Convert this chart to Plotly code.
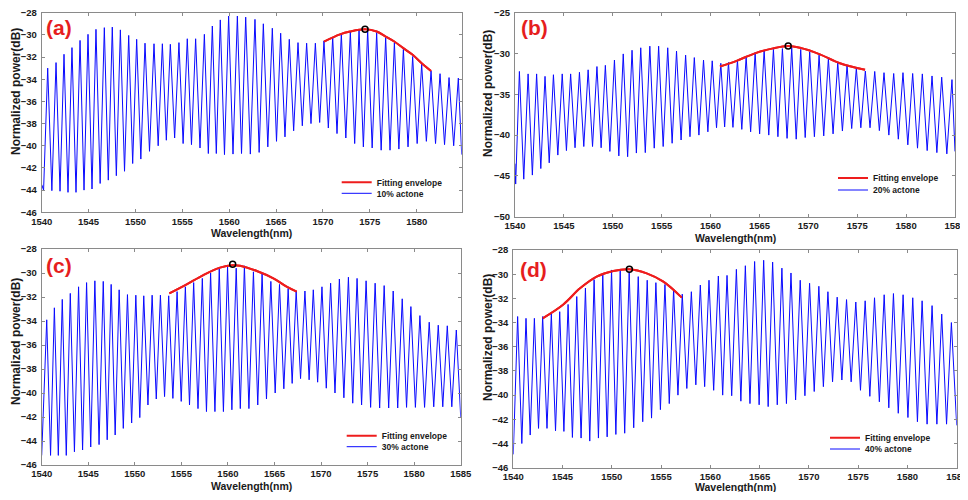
import plotly.graph_objects as go

# the page body adds an 8px margin; the figure is sized so that the page does not overflow the window
OFF = 8
W, H = 968 - OFF, 500 - 2 * OFF

# ---------------- data ----------------
# (a) 10% actone
a_label = "10% actone"
a_start_wl = [1540.0, 1540.2]
a_start_db = [-43.5, -44.0]
a_peak_wl = [1540.64, 1541.53, 1542.38, 1543.23, 1544.09, 1544.94, 1545.79, 1546.68, 1547.53, 1548.39,
             1549.28, 1550.13, 1551.02, 1551.98, 1552.87, 1553.72, 1554.64, 1555.53, 1556.42, 1557.35,
             1558.20, 1559.05, 1559.94, 1560.87, 1561.76, 1562.75, 1563.64, 1564.60, 1565.49, 1566.41,
             1567.34, 1568.26, 1569.19, 1570.11, 1571.04, 1571.96, 1572.92, 1573.85, 1574.77, 1575.73,
             1576.69, 1577.62, 1578.58, 1579.57, 1580.53, 1581.53, 1582.49, 1583.45, 1584.44]
a_peak_db = [-33.0, -32.5, -31.75, -31.15, -30.5, -29.95, -29.5, -29.35, -29.3, -29.55,
             -30.05, -30.4, -30.75, -30.8, -30.8, -30.85, -30.7, -30.35, -30.35, -29.95,
             -29.2, -28.65, -28.3, -28.3, -28.4, -28.6, -29.0, -29.4, -29.85, -30.4,
             -30.7, -30.75, -30.75, -30.55, -30.2, -29.9, -29.7, -29.55, -29.55, -29.8,
             -30.25, -30.7, -31.3, -31.95, -32.65, -33.25, -33.5, -33.85, -33.9]
a_trough_db = [-44.05, -44.1, -44.2, -44.2, -44.0, -43.9, -43.4, -43.1, -42.7, -42.3,
               -41.6, -41.2, -40.5, -40.0, -39.5, -39.3, -39.8, -39.9, -40.2, -40.7,
               -40.7, -40.8, -40.75, -40.7, -40.75, -40.6, -40.1, -39.6, -39.2, -38.65,
               -38.2, -38.0, -37.9, -38.4, -38.9, -39.3, -39.8, -40.1, -40.2, -40.4,
               -40.4, -40.3, -40.1, -39.8, -39.6, -39.8, -39.9, -40.0]
a_end_wl = [1584.8]
a_end_db = [-40.8]
a_env_wl = [1570.11, 1571.82, 1572.89, 1574.49, 1575.73, 1576.69, 1577.61, 1578.57, 1579.57, 1580.53, 1581.53]
a_env_db = [-30.6, -29.95, -29.7, -29.5, -29.7, -30.15, -30.6, -31.2, -31.8, -32.55, -33.25]
a_max_wl = [1574.49]
a_max_db = [-29.5]

# (b) 20% actone
b_label = "20% actone"
b_start_wl = [1540.0, 1540.07]
b_start_db = [-43.5, -46.0]
b_peak_wl = [1540.45, 1541.34, 1542.21, 1543.07, 1543.93, 1544.83, 1545.69, 1546.59, 1547.48, 1548.38,
             1549.24, 1550.17, 1551.07, 1551.97, 1552.86, 1553.79, 1554.69, 1555.62, 1556.52, 1557.45,
             1558.34, 1559.28, 1560.17, 1561.05, 1561.83, 1562.75, 1563.64, 1564.56, 1565.48, 1566.43,
             1567.35, 1568.30, 1569.22, 1570.14, 1571.10, 1572.05, 1573.01, 1573.96, 1574.91, 1575.83,
             1576.79, 1577.74, 1578.73, 1579.68, 1580.67, 1581.66, 1582.65, 1583.64, 1584.69]
b_peak_db = [-32.2, -32.5, -32.5, -32.8, -32.6, -32.5, -32.5, -32.3, -32.0, -31.6,
             -31.45, -30.8, -30.05, -29.6, -29.3, -29.1, -29.1, -29.3, -29.7, -30.2,
             -30.5, -30.8, -30.9, -31.2, -31.1, -30.8, -30.4, -29.9, -29.6, -29.5,
             -29.4, -29.3, -29.5, -29.8, -30.2, -30.6, -31.1, -31.45, -31.8, -32.15,
             -32.2, -32.35, -32.45, -32.35, -32.45, -32.5, -32.75, -32.9, -33.2]
b_trough_db = [-45.4, -44.9, -44.1, -43.4, -42.45, -41.9, -41.55, -41.4, -41.4, -41.55,
               -42.0, -42.55, -42.65, -42.2, -42.15, -41.6, -41.4, -41.0, -40.6, -40.2,
               -40.0, -39.6, -39.1, -39.0, -39.05, -39.3, -39.6, -39.85, -40.0, -40.2,
               -40.4, -40.5, -40.3, -40.2, -40.1, -39.85, -39.5, -39.2, -39.1, -39.1,
               -39.45, -40.0, -40.5, -41.2, -41.6, -41.9, -42.15, -42.3]
b_end_wl = [1585.0]
b_end_db = [-42.0]
b_env_wl = [1560.96, 1562.66, 1564.54, 1566.40, 1567.94, 1569.14, 1571.18, 1573.23, 1575.80]
b_env_db = [-31.6, -30.9, -29.98, -29.37, -29.08, -29.3, -30.1, -31.2, -32.0]
b_max_wl = [1567.94]
b_max_db = [-29.08]

# (c) 30% actone
c_label = "30% actone"
c_start_wl = [1540.0]
c_start_db = [-45.2]
c_peak_wl = [1540.54, 1541.36, 1542.21, 1543.07, 1543.96, 1544.82, 1545.71, 1546.61, 1547.46, 1548.32,
             1549.21, 1550.11, 1550.96, 1551.86, 1552.75, 1553.64, 1554.54, 1555.43, 1556.32, 1557.25,
             1558.14, 1559.07, 1559.96, 1560.89, 1561.77, 1562.74, 1563.67, 1564.61, 1565.54, 1566.47,
             1567.33, 1568.27, 1569.17, 1570.10, 1571.03, 1571.97, 1572.94, 1573.87, 1574.84, 1575.81,
             1576.78, 1577.75, 1578.72, 1579.65, 1580.62, 1581.62, 1582.59, 1583.56, 1584.53]
c_peak_db = [-33.9, -32.9, -32.2, -31.7, -31.15, -30.8, -30.65, -30.7, -30.95, -31.4,
             -31.8, -31.85, -31.9, -31.85, -31.85, -31.9, -31.55, -31.15, -30.8, -30.45,
             -30.0, -29.65, -29.5, -29.6, -29.4, -29.9, -30.05, -30.7, -30.95, -31.3,
             -31.5, -31.5, -31.4, -31.15, -30.85, -30.5, -30.35, -30.45, -30.65, -30.85,
             -31.05, -31.5, -32.15, -32.8, -33.55, -34.1, -34.35, -34.4, -34.75]
c_trough_db = [-45.2, -45.2, -45.2, -44.9, -44.75, -44.5, -44.3, -43.9, -43.5, -42.95,
               -42.5, -42.05, -41.0, -40.5, -40.3, -40.45, -40.7, -41.0, -41.3, -41.55,
               -41.55, -41.55, -41.4, -41.3, -41.3, -41.0, -40.5, -40.0, -39.65, -39.2,
               -38.8, -38.9, -39.1, -39.6, -40.0, -40.4, -40.85, -41.0, -41.2, -41.25,
               -41.25, -41.25, -41.2, -41.2, -41.2, -41.15, -41.15, -41.15]
c_end_wl = [1585.0]
c_end_db = [-42.0]
c_env_wl = [1553.71, 1555.57, 1557.36, 1559.15, 1560.51, 1561.3, 1563.1, 1564.88, 1566.3, 1567.39]
c_env_db = [-31.7, -30.95, -30.17, -29.55, -29.35, -29.39, -29.83, -30.44, -31.14, -31.55]
c_max_wl = [1560.51]
c_max_db = [-29.28]

# (d) 40% actone
d_label = "40% actone"
d_start_wl = [1540.0]
d_start_db = [-44.9]
d_peak_wl = [1540.44, 1541.29, 1542.14, 1542.98, 1543.86, 1544.71, 1545.56, 1546.44, 1547.32, 1548.20,
             1549.08, 1549.97, 1550.85, 1551.76, 1552.68, 1553.59, 1554.47, 1555.39, 1556.27, 1557.15,
             1558.07, 1558.98, 1559.86, 1560.81, 1561.69, 1562.64, 1563.55, 1564.49, 1565.41, 1566.32,
             1567.26, 1568.18, 1569.12, 1570.07, 1571.01, 1571.93, 1572.87, 1573.82, 1574.76, 1575.71,
             1576.66, 1577.64, 1578.58, 1579.56, 1580.54, 1581.49, 1582.50, 1583.48, 1584.46]
d_peak_db = [-33.5, -33.65, -33.65, -33.5, -33.25, -33.1, -32.5, -31.85, -31.15, -30.45,
             -30.0, -29.65, -29.6, -29.8, -30.2, -30.5, -30.7, -30.85, -31.25, -31.65,
             -31.45, -30.9, -30.5, -30.15, -30.1, -29.6, -29.3, -28.95, -28.85, -29.0,
             -29.5, -29.9, -30.5, -30.75, -31.0, -31.45, -31.9, -32.1, -32.3, -32.2,
             -31.95, -31.7, -31.6, -31.7, -31.95, -32.2, -32.6, -33.3, -34.0]
d_trough_db = [-44.0, -43.3, -42.75, -42.75, -42.95, -43.0, -43.5, -43.55, -43.8, -43.55,
               -43.45, -43.25, -43.15, -42.7, -42.2, -41.9, -41.2, -40.7, -40.0, -39.45,
               -39.15, -39.3, -39.6, -40.0, -40.05, -40.5, -40.7, -40.8, -40.95, -40.8,
               -40.7, -40.4, -40.05, -39.7, -39.3, -38.9, -38.75, -38.9, -39.6, -40.1,
               -40.55, -41.05, -41.5, -41.85, -42.2, -42.4, -42.4, -42.4]
d_end_wl = [1585.0]
d_end_db = [-42.5]
d_env_wl = [1542.98, 1545.08, 1546.77, 1548.46, 1550.15, 1551.78, 1553.54, 1555.23, 1557.10]
d_env_db = [-33.65, -32.5, -31.17, -30.2, -29.74, -29.6, -29.93, -30.62, -31.94]
d_max_wl = [1551.78]
d_max_db = [-29.6]

panel_tags = ["(a)", "(b)", "(c)", "(d)"]
x_ranges = [[1540, 1584.8], [1540, 1585], [1540, 1585], [1540, 1585]]
y_ranges = [[-46, -28], [-50, -25], [-46, -28], [-46, -28]]
y_dticks = [2, 5, 2, 2]
x_label = "Wavelength(nm)"
y_label = "Normalized power(dB)"
env_label = "Fitting envelope"

# ---------------- build ----------------
def spectrum(start_wl, start_db, peak_wl, peak_db, trough_db, end_wl, end_db):
    xs, ys = list(start_wl), list(start_db)
    for i in range(len(peak_wl)):
        xs.append(peak_wl[i]); ys.append(peak_db[i])
        if i < len(trough_db):
            xs.append((peak_wl[i] + peak_wl[i + 1]) / 2.0); ys.append(trough_db[i])
    xs += list(end_wl); ys += list(end_db)
    return xs, ys

panels = [
    (a_label, a_start_wl, a_start_db, a_peak_wl, a_peak_db, a_trough_db, a_end_wl, a_end_db, a_env_wl, a_env_db, a_max_wl, a_max_db),
    (b_label, b_start_wl, b_start_db, b_peak_wl, b_peak_db, b_trough_db, b_end_wl, b_end_db, b_env_wl, b_env_db, b_max_wl, b_max_db),
    (c_label, c_start_wl, c_start_db, c_peak_wl, c_peak_db, c_trough_db, c_end_wl, c_end_db, c_env_wl, c_env_db, c_max_wl, c_max_db),
    (d_label, d_start_wl, d_start_db, d_peak_wl, d_peak_db, d_trough_db, d_end_wl, d_end_db, d_env_wl, d_env_db, d_max_wl, d_max_db),
]

# layout positions in window pixels
boxes = [(41.7, 461.7, 12.7, 212.3), (515.0, 955.0, 12.7, 216.7),
         (41.7, 460.7, 249.0, 465.0), (513.3, 956.7, 250.0, 467.7)]
leg_pos = [((376.7, 182.3), (376.7, 193.3)), ((873.0, 178.0), (873.0, 190.0)),
           ((381.7, 435.7), (381.7, 446.7)), ((865.0, 437.7), (865.0, 449.0))]
tag_pos = [(58.5, 27.0), (534.0, 28.0), (58.5, 265.0), (533.0, 269.0)]
xlab_pos = [(251.7, 233.5), (735.0, 238.0), (251.2, 486.0), (735.0, 486.5)]
ylab_pos = [(16.0, 92.0), (488.0, 94.0), (16.0, 342.0), (488.0, 338.0)]

def fx(px):
    return (px - OFF) / W

def fy(py):
    return 1 - (py - OFF) / H

RED = "#ee1d1d"
BLUE = "rgb(10,10,255)"
FONT = "Liberation Sans"
AXC = "#8a8a8a"

fig = go.Figure()
layout = dict(width=W, height=H, margin=dict(l=0, r=0, t=0, b=0, pad=0), autosize=False,
              paper_bgcolor="white", plot_bgcolor="white", showlegend=True)
annotations = []

for k, p in enumerate(panels):
    (lab, s_wl, s_db, pk_wl, pk_db, tr_db, e_wl, e_db, env_wl, env_db, mx_wl, mx_db) = p
    sfx = "" if k == 0 else str(k + 1)
    xa, ya = "x" + sfx, "y" + sfx
    leg1 = "legend" if k == 0 else "legend" + str(2 * k + 1)
    leg2 = "legend" + str(2 * k + 2)
    xs, ys = spectrum(s_wl, s_db, pk_wl, pk_db, tr_db, e_wl, e_db)

    fig.add_trace(go.Scatter(x=env_wl, y=env_db, mode="lines", name=env_label,
                             line=dict(color=RED, width=2, shape="spline", smoothing=1.0),
                             xaxis=xa, yaxis=ya, legend=leg1))
    fig.add_trace(go.Scatter(x=xs, y=ys, mode="lines", name=lab,
                             line=dict(color=BLUE, width=1),
                             xaxis=xa, yaxis=ya, legend=leg2))
    fig.add_trace(go.Scatter(x=env_wl, y=env_db, mode="lines", showlegend=False,
                             line=dict(color=RED, width=2, shape="spline", smoothing=1.0),
                             xaxis=xa, yaxis=ya))
    fig.add_trace(go.Scatter(x=mx_wl, y=mx_db, mode="markers", showlegend=False,
                             marker=dict(symbol="circle-open", size=6, color="black",
                                         line=dict(width=1.5, color="black")),
                             xaxis=xa, yaxis=ya))

    l, r, t, b = boxes[k]
    tickfont = dict(family=FONT, size=9.5, color="#1a1a1a", weight="bold")
    layout["xaxis" + sfx] = dict(domain=[fx(l), fx(r)], anchor=ya, range=x_ranges[k],
                                 tick0=1540, dtick=5, showgrid=False, zeroline=False,
                                 showline=True, linecolor=AXC, linewidth=1, mirror="ticks",
                                 ticks="inside", ticklen=3, tickcolor=AXC, tickfont=tickfont,
                                 ticklabelstandoff=0, automargin=False, ticklabeloverflow="allow")
    layout["yaxis" + sfx] = dict(domain=[fy(b), fy(t)], anchor=xa, range=y_ranges[k],
                                 dtick=y_dticks[k], showgrid=False, zeroline=False,
                                 showline=True, linecolor=AXC, linewidth=1, mirror="ticks",
                                 ticks="inside", ticklen=3, tickcolor=AXC, tickfont=tickfont,
                                 ticklabelstandoff=2, automargin=False, ticklabeloverflow="allow")

    for leg, (tx, ty) in zip([leg1, leg2], leg_pos[k]):
        layout[leg] = dict(x=fx(tx - 40), y=fy(ty), xanchor="left", yanchor="middle",
                           bgcolor="rgba(0,0,0,0)", borderwidth=0, itemwidth=30,
                           font=dict(family=FONT, size=8.5, color="#1a1a1a", weight="bold"))

    annotations.append(dict(text=panel_tags[k], x=fx(tag_pos[k][0]), y=fy(tag_pos[k][1]),
                            xref="paper", yref="paper", showarrow=False,
                            xanchor="center", yanchor="middle",
                            font=dict(family=FONT, size=21, color="#e61e1e", weight="bold")))
    annotations.append(dict(text=x_label, x=fx(xlab_pos[k][0]), y=fy(xlab_pos[k][1]),
                            xref="paper", yref="paper", showarrow=False,
                            xanchor="center", yanchor="middle",
                            font=dict(family=FONT, size=10.5, color="#1a1a1a", weight="bold")))
    annotations.append(dict(text=y_label, x=fx(ylab_pos[k][0]), y=fy(ylab_pos[k][1]),
                            xref="paper", yref="paper", showarrow=False, textangle=-90,
                            xanchor="center", yanchor="middle",
                            font=dict(family=FONT, size=12, color="#1a1a1a", weight="bold")))

layout["annotations"] = annotations
fig.update_layout(**layout)
fig.write_html("out.html")
